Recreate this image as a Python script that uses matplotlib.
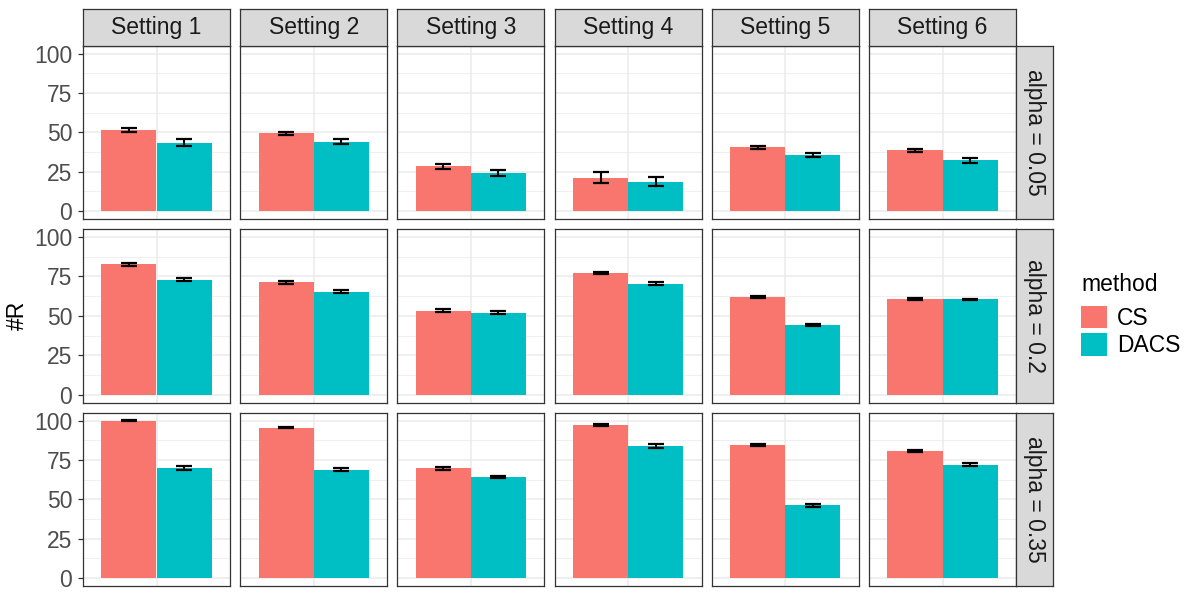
import matplotlib
matplotlib.use("Agg")
import matplotlib.pyplot as plt
from matplotlib.patches import Patch

plt.rcParams['font.family'] = ['Liberation Sans', 'DejaVu Sans']

settings = ["Setting 1", "Setting 2", "Setting 3", "Setting 4", "Setting 5", "Setting 6"]
alphas = ["alpha = 0.05", "alpha = 0.2", "alpha = 0.35"]
methods = ["CS", "DACS"]

# mean #R per alpha row, per setting
cs_mean = [
    [51.5, 49.4, 28.4, 21.2, 40.5, 38.5],
    [82.7, 71.4, 53.3, 77.1, 61.9, 60.8],
    [99.9, 95.6, 69.7, 97.3, 84.4, 80.9],
]
dacs_mean = [
    [43.5, 44.1, 24.0, 18.7, 35.7, 32.2],
    [73.0, 65.3, 52.0, 70.3, 44.0, 60.4],
    [69.9, 68.8, 64.4, 83.8, 46.1, 72.0],
]
# error bar half-widths
cs_err = [
    [1.2, 1.0, 1.7, 3.4, 1.1, 1.1],
    [0.8, 1.0, 0.9, 0.6, 0.6, 0.6],
    [0.3, 0.6, 0.8, 0.5, 0.6, 0.6],
]
dacs_err = [
    [2.1, 1.5, 1.8, 2.9, 1.4, 1.7],
    [1.1, 1.0, 0.9, 1.0, 0.6, 0.6],
    [1.3, 1.0, 0.7, 1.5, 0.7, 0.8],
]

colors = ["#F8766D", "#00BFC4"]
W, H = 1200, 600
FS = 16.5

fig = plt.figure(figsize=(12, 6), dpi=100)


def rect(x, y, w, h):
    return [x / W, 1 - (y + h) / H, w / W, h / H]


pw, ph = 147.0, 173.3
x0 = [83 + i * 157.2 for i in range(6)]
y0 = [45.7 + r * 183.5 for r in range(3)]

for r in range(3):
    for c in range(6):
        ax = fig.add_axes(rect(x0[c], y0[r], pw, ph))
        ax.set_facecolor("white")
        pos = [1 - 0.225, 1 + 0.225]
        vals = [cs_mean[r][c], dacs_mean[r][c]]
        errs = [cs_err[r][c], dacs_err[r][c]]
        ax.bar(pos, vals, width=0.45, color=colors, zorder=2)
        ax.errorbar(pos, vals, yerr=errs, fmt='none', ecolor='black',
                    capsize=5.8, elinewidth=1.5, capthick=1.6, zorder=3)
        ax.set_xlim(0.4, 1.6)
        ax.set_ylim(-5, 105)
        ax.set_yticks([0, 25, 50, 75, 100])
        ax.set_yticks([12.5, 37.5, 62.5, 87.5], minor=True)
        ax.set_xticks([1])
        ax.set_xticklabels([])
        ax.tick_params(axis='x', length=0)
        ax.tick_params(axis='y', which='minor', length=0)
        ax.grid(True, which='major', color='#EBEBEB', lw=1.1, zorder=0)
        ax.grid(True, which='minor', axis='y', color='#EBEBEB', lw=0.55, zorder=0)
        ax.set_axisbelow(True)
        for s in ax.spines.values():
            s.set_color('#333333')
            s.set_linewidth(0.9)
            s.set_zorder(4)
        if c == 0:
            ax.tick_params(axis='y', which='major', length=3.4, width=0.9,
                           color='#333333', labelcolor='#4D4D4D',
                           labelsize=FS, pad=4.3)
        else:
            ax.tick_params(axis='y', which='major', length=0)
            ax.set_yticklabels([])

# top strips
for c in range(6):
    sa = fig.add_axes(rect(x0[c], 9.3, pw, 36.4))
    sa.set_facecolor('#D9D9D9')
    sa.set_xticks([]); sa.set_yticks([])
    for s in sa.spines.values():
        s.set_color('#333333'); s.set_linewidth(0.9)
    sa.text(0.5, 0.5, settings[c], ha='center', va='center',
            fontsize=FS, color='#1A1A1A', transform=sa.transAxes)

# right strips
for r in range(3):
    sa = fig.add_axes(rect(x0[5] + pw, y0[r], 36.7, ph))
    sa.set_facecolor('#D9D9D9')
    sa.set_xticks([]); sa.set_yticks([])
    for s in sa.spines.values():
        s.set_color('#333333'); s.set_linewidth(0.9)
    sa.text(0.5, 0.5, alphas[r], ha='center', va='center', rotation=-90,
            fontsize=FS, color='#1A1A1A', transform=sa.transAxes)

# y label
fig.text(17 / W, 1 - 315.5 / H, "#R", rotation=90, ha='center', va='center',
         fontsize=FS, color='black')

# legend
handles = [Patch(facecolor=colors[0], edgecolor='none'),
           Patch(facecolor=colors[1], edgecolor='none')]
leg = fig.legend(handles=handles, labels=methods, title='method',
                 loc='upper left', bbox_to_anchor=(1081 / W, 1 - 273 / H),
                 frameon=False, fontsize=FS, title_fontsize=FS,
                 handlelength=1.13, handleheight=1.13, handletextpad=0.44,
                 labelspacing=0.16, borderpad=0, borderaxespad=0,
                 alignment='left')
leg._legend_box.sep = 7.0

fig.savefig("out.png", dpi=100)
